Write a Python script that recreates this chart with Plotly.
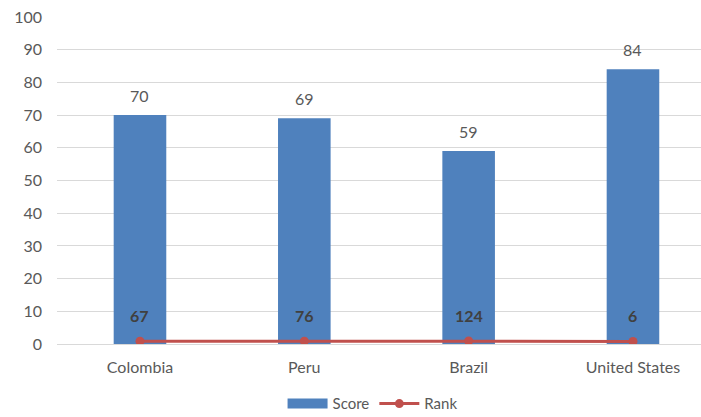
import plotly.graph_objects as go

countries = ["Colombia", "Peru", "Brazil", "United States"]
score = [70, 69, 59, 84]
rank = [67, 76, 124, 6]
y_ticks = [0, 10, 20, 30, 40, 50, 60, 70, 80, 90, 100]

BAR_BLUE = "#4f81bd"
LINE_RED = "#c0504d"
GREY_TXT = "#595959"
FONT = "Lato"

fig = go.Figure()

fig.add_trace(go.Bar(
    x=countries, y=score, name="Score", legendgroup="score", showlegend=False,
    marker=dict(color=BAR_BLUE, line=dict(width=0)),
    width=0.32,
))
# wide flat legend key for the Score bars
fig.add_trace(go.Scatter(
    x=[None], y=[None], name="Score", legendgroup="score", mode="lines",
    line=dict(color=BAR_BLUE, width=10), hoverinfo="skip",
))

# Rank series sits on a hidden secondary axis with a very wide range
fig.add_trace(go.Scatter(
    x=countries, y=rank, name="Rank", yaxis="y2",
    mode="lines+markers",
    line=dict(color=LINE_RED, width=3),
    marker=dict(color=LINE_RED, size=9),
))

annotations = []
for c, s in zip(countries, score):
    annotations.append(dict(
        x=c, y=s, xref="x", yref="y", text=str(s), showarrow=False,
        yshift=20, font=dict(family=FONT, size=16, color=GREY_TXT),
    ))
for c, r in zip(countries, rank):
    annotations.append(dict(
        x=c, y=r, xref="x", yref="y2", text=f"<b>{r}</b>", showarrow=False,
        yshift=26, font=dict(family=FONT, size=16, color="#404040"),
    ))

fig.update_layout(
    width=701, height=417,
    margin=dict(l=57, r=0, t=17, b=73, autoexpand=False),
    paper_bgcolor="white", plot_bgcolor="white",
    font=dict(family=FONT, size=15, color=GREY_TXT),
    showlegend=True,
    legend=dict(
        orientation="h", x=0.49, xanchor="center", y=-0.183, yanchor="middle",
        font=dict(family=FONT, size=15, color=GREY_TXT),
        traceorder="normal", itemwidth=40,
    ),
    xaxis=dict(
        range=[-0.505, 3.414], showgrid=False, zeroline=False, automargin=False,
        showline=False, ticks="", ticklabelstandoff=12,
        tickfont=dict(family=FONT, size=16, color=GREY_TXT),
    ),
    yaxis=dict(
        range=[0, 100], tickvals=y_ticks, showgrid=True, gridcolor="#d9d9d9",
        gridwidth=1, zeroline=True, zerolinecolor="#d9d9d9", zerolinewidth=1,
        showline=False, ticks="", ticklabelstandoff=14, automargin=False,
        tickfont=dict(family=FONT, size=16, color=GREY_TXT),
    ),
    yaxis2=dict(
        overlaying="y", side="right", range=[-800, 100000], visible=False,
        showgrid=False, zeroline=False,
    ),
    annotations=annotations,
)

fig.write_html("out.html")
